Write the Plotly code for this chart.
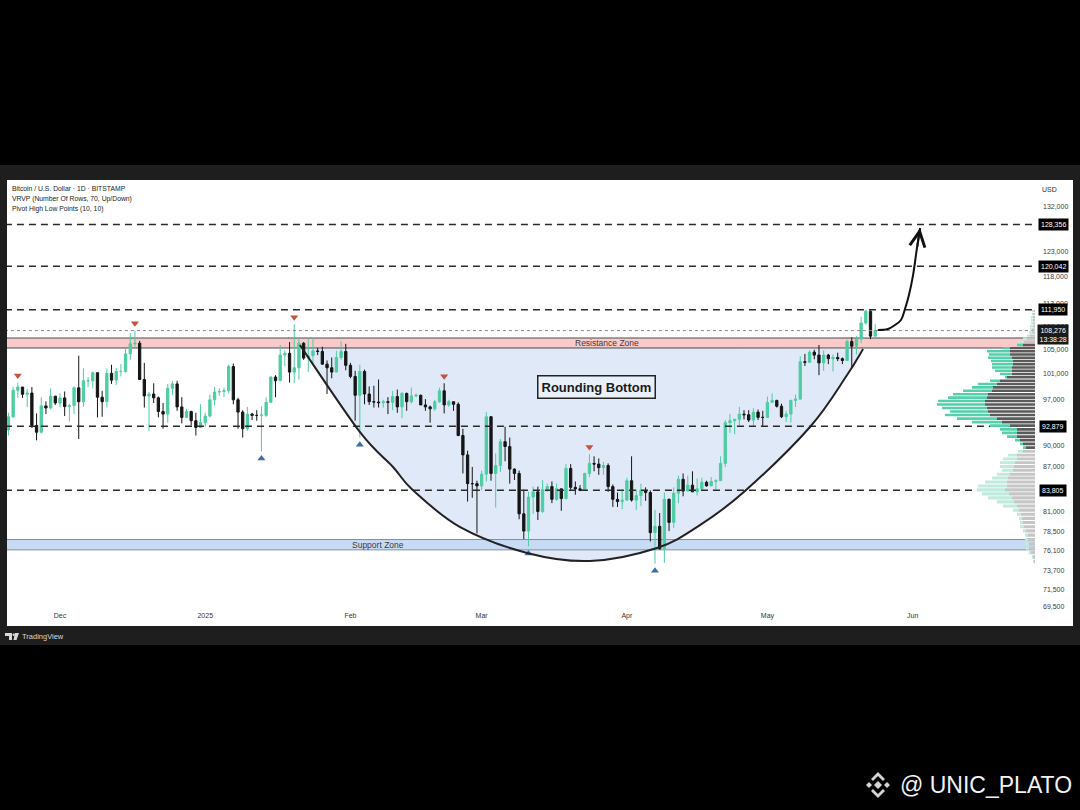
import math
import pandas as pd
import plotly.graph_objects as go

# ---------------- data (BTC/USD daily, Bitstamp) ----------------
START_DATE = "2024-11-20"
OPEN = [
    92310, 94290, 98380, 98900, 97750, 97950, 93000, 91980, 95950, 95640, 97460,
    96400, 97190, 95840, 96000, 98770, 96600, 99900, 99900, 101200, 97300, 96600, 101100, 100000, 101400, 101400,
    104300, 106000, 106100, 100100, 97500, 97800, 97200, 95100, 94700, 98700, 99400, 95800, 94200, 95100, 93700, 92700,
    93400, 94400, 96900, 98100, 98200, 98300, 102200, 96900, 95000, 92500, 94700, 94500, 94500, 94500, 96500, 100500,
    99900, 104100, 104400, 101300, 102000, 106100, 103600, 104000, 104800, 104700, 102600, 102000, 101300, 103700, 104700,
    102400, 100600, 97600, 101400, 97800, 96600, 96550, 96450, 96600, 96500, 97400, 95800, 97900, 96600, 97500, 97600,
    96100, 95800, 95500, 96600, 98300, 96100, 96600, 96200, 91500, 88700, 84700, 84700,
    84400, 86000, 94300, 86100, 87200, 90600, 89900, 86700, 86100, 80700, 78500, 82900, 83600, 81000, 83900, 84300,
    82600, 84000, 82700, 86800, 84200, 84000, 83800, 86100, 87500, 87400, 86900, 87200, 84300, 82600, 82300,
    82500, 85100, 82500, 83100, 83800, 83500, 78300, 79100, 76300, 82600, 79600, 83400, 85300, 83700, 84500, 83600,
    84000, 84900, 84400, 85000, 85100, 87500, 93400, 93700, 93900, 94700, 94600, 93800, 95000, 94200,
    94200, 96500, 96800, 95900, 94300, 94700, 96800, 97000, 103000, 102900, 104600, 104100, 102800, 104100, 103500,
    103700, 103500, 103200, 106400, 105600, 106800, 109600, 111700, 107300,
]
HIGH = [
    94900, 98950, 99600, 98900, 98650, 98900, 94800, 97300, 96650, 98700, 97500,
    97900, 98200, 96300, 99000, 104000, 101900, 100500, 101400, 101200, 98300, 101900, 102500, 102000, 102600, 105200,
    107800, 108300, 106500, 102800, 98100, 99500, 97400, 96400, 99400, 99900, 99900, 97300, 95500, 95200, 94900, 96200,
    94900, 97700, 98900, 98700, 98800, 102500, 102700, 97200, 95300, 95800, 94900, 95300, 95900, 97300, 100600, 100800,
    105800, 104900, 106300, 109350, 107000, 106300, 106800, 107100, 105300, 105500, 103200, 103700, 104800, 106400, 106000,
    102800, 101500, 102500, 101700, 99000, 99100, 100100, 96900, 97300, 98300, 98500, 98100, 98000, 98800, 97900, 97700,
    97000, 96000, 96900, 98800, 99500, 96900, 96600, 96500, 92500, 89300, 87000, 85100,
    86500, 95000, 94400, 88900, 91000, 92800, 91200, 86800, 86500, 83900, 83600, 84300, 84300, 85200, 84700, 85000,
    84700, 84000, 87400, 87400, 85000, 84500, 86200, 88800, 88500, 88200, 87700, 87500, 84600, 83500, 83900,
    85500, 88500, 83900, 84700, 84200, 83800, 81200, 80800, 83500, 82700, 84200, 85800, 86100, 85800, 86400, 85400,
    85500, 85100, 85600, 85300, 88500, 93800, 94700, 94000, 95800, 95300, 95300, 95600, 95400, 95200,
    97400, 97900, 96900, 96300, 95200, 96900, 97700, 103900, 104300, 104900, 105000, 105800, 104900, 104300, 104200,
    104500, 103700, 106700, 107100, 107300, 110700, 111950, 111800, 109400,
]
LOW = [
    91500, 94100, 97200, 97200, 95800, 92600, 90800, 91800, 94700, 95400, 96100,
    95700, 94400, 93600, 94700, 91000, 95800, 98900, 98700, 94200, 94300, 95700, 99400, 99200, 100600, 101200,
    103300, 105300, 100000, 95700, 92200, 96400, 94200, 92500, 93400, 97600, 95200, 93300, 94100, 93000, 91500, 92600,
    92800, 94200, 96000, 97500, 97300, 97900, 96200, 92500, 91200, 92200, 93800, 93700, 89200, 94300, 96500, 97300,
    99900, 102300, 99600, 99500, 100100, 103300, 101300, 102800, 104100, 102500, 97800, 100300, 101300, 103300, 101600,
    100300, 93700, 91200, 96200, 96100, 95700, 95700, 95700, 94700, 95300, 94900, 94100, 95200, 96300, 97300, 96100,
    95200, 93400, 95200, 96400, 94800, 95800, 95200, 91400, 86100, 82300, 82800, 78200,
    83800, 85000, 85100, 81500, 86300, 87800, 84700, 85200, 80000, 77500, 76600, 80700, 79900, 80800, 83600, 82100,
    82400, 81100, 82600, 83700, 83200, 83700, 83800, 85600, 86400, 85900, 85900, 83600, 81600, 81600, 81300,
    82400, 82300, 81200, 81700, 82400, 77200, 74500, 76200, 74600, 78500, 78900, 82100, 83000, 83700, 83600, 83100,
    83900, 84300, 84400, 83900, 85100, 87000, 91900, 91700, 92900, 93900, 93500, 92800, 93800, 92900,
    94100, 96400, 95700, 94100, 93500, 93400, 95800, 96900, 102300, 102800, 103400, 100800, 101500, 102600, 101400,
    103100, 102600, 103100, 102000, 104200, 106100, 109300, 106800, 107300,
]
CLOSE = [
    94290, 98380, 98900, 97750, 97950, 93000, 91980, 95950, 95640, 97460, 96400,
    97190, 95840, 96000, 98770, 96600, 99900, 99900, 101200, 97300, 96600, 101100, 100000, 101400, 101400, 104300,
    106000, 106100, 100100, 97500, 97800, 97200, 95100, 94700, 98700, 99400, 95800, 94200, 95100, 93700, 92700, 93400,
    94400, 96900, 98100, 98200, 98300, 102200, 96900, 95000, 92500, 94700, 94500, 94500, 94550, 96500, 100500, 99900,
    104100, 104400, 101300, 102000, 106100, 103600, 104000, 104800, 104700, 102600, 102000, 101300, 103700, 104700, 102400,
    100600, 97600, 101400, 97800, 96600, 96550, 96450, 96600, 96500, 97400, 95800, 97900, 96600, 97500, 97600, 96100,
    95800, 95500, 96600, 98300, 96100, 96600, 96200, 91500, 88700, 84700, 84700, 84400,
    86000, 94300, 86100, 87200, 90600, 89900, 86700, 86100, 80700, 78500, 82900, 83600, 81000, 83900, 84300, 82600,
    84000, 82700, 86800, 84200, 84000, 83800, 86100, 87500, 87400, 86900, 87200, 84300, 82600, 82300, 82500,
    85100, 82500, 83100, 83800, 83500, 78300, 79100, 76300, 82600, 79600, 83400, 85300, 83700, 84500, 83600, 84000,
    84900, 84400, 85000, 85100, 87500, 93400, 93700, 93900, 94700, 94600, 93800, 95000, 94200, 94200,
    96500, 96800, 95900, 94300, 94700, 96800, 97000, 103000, 102900, 104600, 104100, 102800, 104100, 103500, 103700,
    103500, 103200, 106400, 105600, 106800, 109600, 111700, 107300, 108276,
]
N = min(len(OPEN), len(HIGH), len(LOW), len(CLOSE))
DATES = pd.date_range(START_DATE, periods=N, freq="D")

PIVOT_HIGH_DATES = ["2024-11-22", "2024-12-17", "2025-01-20", "2025-02-21", "2025-03-24"]
PIVOT_LOW_DATES = ["2025-01-13", "2025-02-03", "2025-03-11", "2025-04-07"]

LEVELS = [128356, 120042, 111950, 92879, 83805]
LAST_PRICE = 108276
COUNTDOWN = "13:38:28"
RESISTANCE_ZONE = (105290, 106990)
SUPPORT_ZONE = (76170, 77440)

PRICE_TICKS = [132000, 123000, 118000, 113000, 109000, 105000, 101000, 97000,
               90000, 87000, 81000, 78500, 76100, 73700, 71500, 69500]
TIME_TICKS = ["2024-12-01", "2025-01-01", "2025-02-01", "2025-03-01",
              "2025-04-01", "2025-05-01", "2025-06-01"]
TIME_LABELS = ["Dec", "2025", "Feb", "Mar", "Apr", "May", "Jun"]

# Visible range volume profile, 70 rows (row 0 = lowest price), relative volume
VP_ROWS = 70
VP_UP = [1, 1, 2, 3, 4, 3, 3, 3, 4, 3, 3, 4, 6, 14, 17, 24, 27, 28, 29, 22,
         16, 13, 11, 14, 15, 14, 9, 5, 3, 3, 5, 10, 15, 17, 20, 30, 40, 45, 38, 45,
         48, 47, 39, 35, 29, 21, 19, 10, 2, 12, 17, 20, 21, 22, 24, 21, 23, 7, 6, 6,
         4, 3, 3, 2, 3, 2, 2, 2, 1, 2]
VP_DOWN = [1, 2, 4, 6, 6, 7, 7, 9, 11, 12, 13, 14, 16, 18, 21, 23, 26, 30, 28, 28,
           27, 25, 22, 21, 20, 18, 18, 12, 9, 12, 15, 18, 18, 18, 25, 33, 38, 45, 47, 48,
           50, 50, 48, 47, 43, 42, 38, 35, 28, 23, 23, 23, 22, 22, 23, 25, 25, 25, 12, 11,
           8, 5, 3, 3, 2, 2, 2, 2, 2, 1]
VP_VALUE_AREA = (28, 58)

# Rounding-bottom arc (drawing anchors)
ROUND_DATES = ["2025-01-21 05:00", "2025-02-03 00:00", "2025-02-10 02:00", "2025-02-14 07:00",
               "2025-02-24 10:00", "2025-03-10 17:00", "2025-03-24 02:00", "2025-04-07 10:00",
               "2025-04-16 14:00", "2025-04-26 05:00", "2025-05-10 02:00", "2025-05-18 00:00",
               "2025-05-21 10:00"]
ROUND_PRICES = [105800, 92020, 87000, 83840, 79000, 75790, 74820, 76400, 79250, 83700,
                92760, 100820, 105120]

# Projection arrow (drawing anchors)
ARROW_DATES = ["2025-05-24 14:00", "2025-05-26 17:00", "2025-05-28 05:00", "2025-05-29 12:00",
               "2025-05-30 10:00", "2025-05-31 05:00", "2025-06-01 02:00", "2025-06-01 22:00",
               "2025-06-02 14:00"]
ARROW_PRICES = [108370, 108540, 109240, 110130, 112260, 114630, 118350, 123600, 127630]

# ---------------- style ----------------
FONT = "Liberation Sans, Arial, sans-serif"
UP_COLOR = "#4ecca3"
DOWN_COLOR = "#151515"
X_RANGE = ["2024-11-19 16:33", "2025-06-27 02:40"]
Y_RANGE = [4.83989, 5.13870]
PL, PR, PT, PB = 7, 1035, 181, 610


def px(x):
    return (x - PL) / (PR - PL)


def py(y):
    return (PB - y) / (PB - PT)


def ppath(points):
    return "M " + " L ".join(f"{px(a):.5f},{py(b):.5f}" for a, b in points) + " Z"


def bezier_path(dates, prices, y_paper=False, close=False):
    """Catmull-Rom through anchors, expressed as cubic Bezier path (x = date, y = price)."""
    P = [(pd.Timestamp(d).value / 1e6, math.log10(p)) for d, p in zip(dates, prices)]
    n = len(P)

    def fmt(pt):
        xs = pd.Timestamp(int(pt[0]), unit="ms").strftime("%Y-%m-%d_%H:%M:%S")
        if y_paper:
            ys = (pt[1] - Y_RANGE[0]) / (Y_RANGE[1] - Y_RANGE[0])
            return f"{xs},{ys:.6f}"
        return f"{xs},{10 ** pt[1]:.3f}"

    out = "M " + fmt(P[0])
    for i in range(n - 1):
        p0 = P[i - 1] if i > 0 else P[i]
        p1, p2 = P[i], P[i + 1]
        p3 = P[i + 2] if i + 2 < n else P[i + 1]
        c1 = (p1[0] + (p2[0] - p0[0]) / 6, p1[1] + (p2[1] - p0[1]) / 6)
        c2 = (p2[0] - (p3[0] - p1[0]) / 6, p2[1] - (p3[1] - p1[1]) / 6)
        out += f" C {fmt(c1)} {fmt(c2)} {fmt(p2)}"
    if close:
        out += " Z"
    return out


x_lo = pd.Timestamp(X_RANGE[0]) - pd.Timedelta(days=3)
x_hi = pd.Timestamp(X_RANGE[1]) + pd.Timedelta(days=3)

fig = go.Figure()

# candles
fig.add_trace(go.Candlestick(
    x=DATES[:N], open=OPEN[:N], high=HIGH[:N], low=LOW[:N], close=CLOSE[:N],
    increasing=dict(line=dict(color=UP_COLOR, width=1), fillcolor=UP_COLOR),
    decreasing=dict(line=dict(color=DOWN_COLOR, width=1), fillcolor=DOWN_COLOR),
    whiskerwidth=0, hoverinfo="skip"))

# volume profile
vp_lo, vp_hi = min(LOW[:N]), max(HIGH[:N])
row_h = (vp_hi - vp_lo) / VP_ROWS
gap = row_h * 0.12
tot_max = max(u + d for u, d in zip(VP_UP, VP_DOWN))
VP_RANGE = tot_max / 0.0953


def rows_poly(rows, part):
    xs, ys = [], []
    for i in rows:
        lo = vp_lo + i * row_h + gap
        hi = vp_lo + (i + 1) * row_h - gap
        if part == "down":
            a, b = 0, VP_DOWN[i]
        else:
            a, b = VP_DOWN[i], VP_DOWN[i] + VP_UP[i]
        xs += [a, b, b, a, a, None]
        ys += [lo, lo, hi, hi, lo, None]
    return xs, ys


va = [i for i in range(VP_ROWS) if VP_VALUE_AREA[0] <= i <= VP_VALUE_AREA[1]]
outside = [i for i in range(VP_ROWS) if i not in va]
for rows, part, col in [(outside, "down", "#c6c6c6"), (outside, "up", "#bfeadd"),
                        (va, "down", "#5a5a5a"), (va, "up", "#56d0aa")]:
    xs, ys = rows_poly(rows, part)
    fig.add_trace(go.Scatter(x=xs, y=ys, xaxis="x2", yaxis="y", mode="lines",
                             line=dict(width=0), fill="toself", fillcolor=col,
                             hoverinfo="skip"))

# level lines
for lv in LEVELS:
    fig.add_trace(go.Scatter(x=[x_lo, x_hi], y=[lv, lv], mode="lines",
                             line=dict(color="#2a2a2a", width=1.6, dash="7px,5px"),
                             hoverinfo="skip"))
fig.add_trace(go.Scatter(x=[x_lo, x_hi], y=[LAST_PRICE, LAST_PRICE], mode="lines",
                         line=dict(color="#8a8a8a", width=1, dash="dot"), hoverinfo="skip"))

# arrow
fig.add_trace(go.Scatter(x=ARROW_DATES, y=ARROW_PRICES, mode="lines",
                         line=dict(color="#111111", width=2, shape="spline"), hoverinfo="skip"))

# pivots
date_idx = {d.strftime("%Y-%m-%d"): i for i, d in enumerate(DATES[:N])}
ph = [HIGH[date_idx[d]] * 1.0115 for d in PIVOT_HIGH_DATES]
pl = [LOW[date_idx[d]] / 1.0115 for d in PIVOT_LOW_DATES]
fig.add_trace(go.Scatter(x=PIVOT_HIGH_DATES, y=ph, mode="markers",
                         marker=dict(symbol="triangle-down", size=7, color="#c4533e"), hoverinfo="skip"))
fig.add_trace(go.Scatter(x=PIVOT_LOW_DATES, y=pl, mode="markers",
                         marker=dict(symbol="triangle-up", size=7, color="#3d6fa6"), hoverinfo="skip"))

# ---------------- annotations ----------------
ann = []
hdr = ["Bitcoin / U.S. Dollar · 1D · BITSTAMP", "VRVP (Number Of Rows, 70, Up/Down)",
       "Pivot High Low Points (10, 10)"]
for k, t in enumerate(hdr):
    ann.append(dict(text=t, xref="paper", yref="paper", x=px(10), y=py(188 + 10.5 * k),
                    xanchor="left", yanchor="middle", showarrow=False,
                    font=dict(size=6.8, color="#222222", family=FONT)))
ann.append(dict(text="USD", xref="paper", yref="paper", x=px(1049), y=py(190),
                xanchor="center", yanchor="middle", showarrow=False,
                font=dict(size=7, color="#333333", family=FONT)))
ann.append(dict(text="Resistance Zone", xref="paper", yref="paper", x=px(607), y=py(343),
                xanchor="center", yanchor="middle", showarrow=False,
                font=dict(size=8.5, color="#3a3a3a", family=FONT)))
ann.append(dict(text="Support Zone", xref="paper", yref="paper", x=px(378), y=py(545),
                xanchor="center", yanchor="middle", showarrow=False,
                font=dict(size=8.5, color="#3a3a3a", family=FONT)))
ann.append(dict(text="<b>Rounding Bottom</b>", xref="paper", yref="paper", x=px(596), y=py(387),
                xanchor="center", yanchor="middle", showarrow=False,
                font=dict(size=13, color="#1a1a1a", family=FONT),
                bordercolor="#222222", borderwidth=1.5, borderpad=3,
                bgcolor="rgba(255,255,255,0.35)"))
for lv in LEVELS:
    ann.append(dict(text=f"{lv:,}", xref="paper", yref="y", x=px(1053), y=math.log10(lv),
                    xanchor="center", yanchor="middle", showarrow=False,
                    font=dict(size=7, color="white", family=FONT), bgcolor="#000000", borderpad=2))
ann.append(dict(text=f"{LAST_PRICE:,}<br>{COUNTDOWN}", xref="paper", yref="y", x=px(1053),
                y=math.log10(LAST_PRICE), yshift=-4, xanchor="center", yanchor="middle",
                showarrow=False, font=dict(size=7, color="white", family=FONT),
                bgcolor="#1a1a1a", borderpad=1.5))
# arrow head
ann.append(dict(text="", x=ARROW_DATES[-1], y=math.log10(ARROW_PRICES[-1]), xref="x", yref="y",
                ax=-3, ay=20, showarrow=True, arrowhead=5, arrowsize=1.5, arrowwidth=2,
                arrowcolor="#111111", standoff=0))
# footer
ann.append(dict(text="TradingView", xref="paper", yref="paper", x=px(20), y=py(636),
                xanchor="left", yanchor="middle", showarrow=False,
                font=dict(size=7.5, color="#d8d8d8", family=FONT)))
ann.append(dict(text="@ UNIC_PLATO", xref="paper", yref="paper", x=px(898), y=py(785),
                xanchor="left", yanchor="middle", showarrow=False,
                font=dict(size=23, color="#f2f2f2", family=FONT)))

# ---------------- shapes ----------------
shapes = [
    dict(type="rect", xref="paper", yref="paper", x0=px(0), x1=px(1080), y0=py(645), y1=py(165),
         fillcolor="#1e1e1e", line=dict(width=0), layer="below"),
    dict(type="rect", xref="paper", yref="paper", x0=px(7), x1=px(1073), y0=py(626), y1=py(180),
         fillcolor="white", line=dict(width=0), layer="below"),
    # rounding-bottom shading (below candles and below zones)
    dict(type="path", xref="x", yref="paper", layer="below",
         path=bezier_path(ROUND_DATES, ROUND_PRICES, y_paper=True, close=True),
         fillcolor="#dfe9f8", line=dict(width=0)),
]
for (lo, hi), fc, lc in [(RESISTANCE_ZONE, "#f8caca", "#4a4a4a"), (SUPPORT_ZONE, "#c8dbf4", "#7f8ea3")]:
    shapes.append(dict(type="rect", xref="paper", yref="y", x0=0, x1=1, y0=lo, y1=hi,
                       fillcolor=fc, line=dict(width=0), layer="below"))
    for v in (lo, hi):
        shapes.append(dict(type="line", xref="paper", yref="y", x0=0, x1=1, y0=v, y1=v,
                           line=dict(color=lc, width=1), layer="below"))
# rounding-bottom arc line (above candles)
shapes.append(dict(type="path", xref="x", yref="y", layer="above",
                   path=bezier_path(ROUND_DATES, ROUND_PRICES),
                   fillcolor="rgba(0,0,0,0)", line=dict(color="#222222", width=2)))
# TradingView logo
for pts in [[(5, 633), (12, 633), (12, 640), (9, 640), (9, 636), (5, 636)],
            [(15, 633), (19, 633), (16.5, 640), (13.5, 640)]]:
    shapes.append(dict(type="path", xref="paper", yref="paper", path=ppath(pts),
                       fillcolor="#d8d8d8", line=dict(width=0)))
shapes.append(dict(type="circle", xref="paper", yref="paper", x0=px(12.5), x1=px(15),
                   y0=py(636), y1=py(633.5), fillcolor="#d8d8d8", line=dict(width=0)))
# Binance-style logo near watermark
cx, cy = 878, 785
logo = [
    [(cx, cy - 4), (cx + 4, cy), (cx, cy + 4), (cx - 4, cy)],
    [(cx - 9, cy - 3), (cx - 6, cy), (cx - 9, cy + 3), (cx - 12, cy)],
    [(cx + 9, cy - 3), (cx + 12, cy), (cx + 9, cy + 3), (cx + 6, cy)],
    [(cx - 7, cy - 6), (cx, cy - 13), (cx + 7, cy - 6), (cx + 5, cy - 4), (cx, cy - 9), (cx - 5, cy - 4)],
    [(cx - 7, cy + 6), (cx, cy + 13), (cx + 7, cy + 6), (cx + 5, cy + 4), (cx, cy + 9), (cx - 5, cy + 4)],
]
for pts in logo:
    shapes.append(dict(type="path", xref="paper", yref="paper", path=ppath(pts),
                       fillcolor="#d4d4d4", line=dict(width=0)))

fig.update_layout(
    width=1080, height=810,
    margin=dict(l=PL, r=1080 - PR, t=PT, b=810 - PB, pad=0),
    paper_bgcolor="#000000", plot_bgcolor="#ffffff",
    showlegend=False, font=dict(family=FONT),
    xaxis=dict(type="date", range=X_RANGE, rangeslider=dict(visible=False),
               showgrid=False, zeroline=False, showline=False, ticks="",
               tickmode="array", tickvals=TIME_TICKS, ticktext=TIME_LABELS,
               tickfont=dict(size=7, color="#333333", family=FONT), fixedrange=True),
    xaxis2=dict(overlaying="x", range=[VP_RANGE, 0], visible=False, anchor="y", fixedrange=True),
    yaxis=dict(type="log", range=Y_RANGE, side="right", showgrid=False, zeroline=False,
               showline=False, ticks="", tickmode="array", tickvals=PRICE_TICKS,
               ticktext=[f"{v:,}" for v in PRICE_TICKS], ticklabelstandoff=7,
               tickfont=dict(size=7, color="#3a3a3a", family=FONT), fixedrange=True),
    annotations=ann, shapes=shapes,
)

fig.write_html("out.html", config={"displayModeBar": False},
               post_script="document.body.style.margin='0px';")
